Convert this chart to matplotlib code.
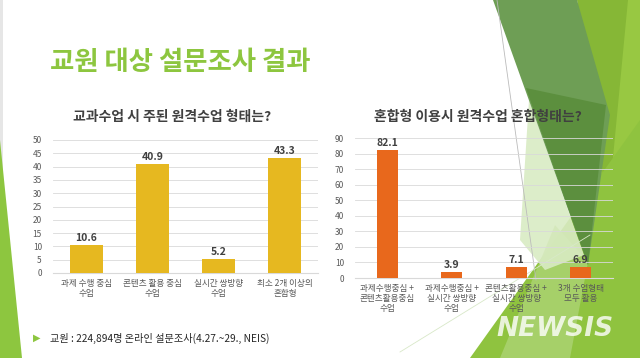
import matplotlib.pyplot as plt
from matplotlib.patches import Polygon
from matplotlib.lines import Line2D

plt.rcParams['font.family'] = ['Noto Sans CJK KR', 'DejaVu Sans']

# left chart data
left_title = '교과수업 시 주된 원격수업 형태는?'
left_labels = ['과제 수행 중심\n수업', '콘텐츠 활용 중심\n수업', '실시간 쌍방향\n수업', '최소 2개 이상의\n혼합형']
left_values = [10.6, 40.9, 5.2, 43.3]
left_ticks = [0, 5, 10, 15, 20, 25, 30, 35, 40, 45, 50]

# right chart data
right_title = '혼합형 이용시 원격수업 혼합형태는?'
right_labels = ['과제수행중심 +\n콘텐츠활용중심\n수업', '과제수행중심 +\n실시간 쌍방향\n수업',
                '콘텐츠활용중심 +\n실시간 쌍방향\n수업', '3개 수업형태\n모두 활용']
right_values = [82.1, 3.9, 7.1, 6.9]
right_ticks = [0, 10, 20, 30, 40, 50, 60, 70, 80, 90]

W, H = 640, 358
fig = plt.figure(figsize=(6.4, 3.58), dpi=100)
fig.patch.set_facecolor('white')


def px(points):
    # pixel coords (y down) -> figure fraction
    return [(x / W, 1 - y / H) for x, y in points]


def deco(points, color, alpha=1.0):
    fig.patches.append(Polygon(px(points), closed=True, transform=fig.transFigure,
                               facecolor=color, edgecolor='none', alpha=alpha, zorder=-5))


# background decoration (slide theme)
deco([(0, 0), (3, 0), (3, 358), (0, 358)], '#E6E6E6')
deco([(0, 140), (22, 358), (0, 358)], '#8DC63F')
deco([(610, 0), (640, 0), (640, 358), (580, 358)], '#98C842')
deco([(577, 0), (628, 0), (608, 210)], '#86B736')
deco([(470, 358), (640, 120), (640, 358)], '#8FC33F')
deco([(500, 358), (555, 225), (588, 262), (570, 358)], '#A9D26E', 0.9)
deco([(529, 100), (584, 255), (545, 270), (520, 240)], '#D9EBC3', 0.9)
deco([(493, 0), (577, 0), (610, 115), (588, 265)], '#6E9E55')
deco([(526, 88), (606, 105), (588, 265)], '#5C8F3E')
fig.lines.append(Line2D([497 / W, 536 / W], [1, 1 - 280 / H], transform=fig.transFigure,
                        color='#BBBBBB', lw=0.6, zorder=-4))
fig.lines.append(Line2D([400 / W, 590 / W], [1 - 352 / H, 1 - 235 / H], transform=fig.transFigure,
                        color='#D8E8C8', lw=0.6, zorder=-4))

# headings
fig.text(50 / W, 1 - 62 / H, '교원 대상 설문조사 결과', color='#8DC63F', fontsize=19,
         fontweight='bold', va='center', ha='left')
fig.text(33 / W, 1 - 338 / H, '▶', color='#8DC63F', fontsize=7, va='center', ha='left',
         family=['DejaVu Sans'])
fig.text(50 / W, 1 - 338 / H, '교원 : 224,894명 온라인 설문조사(4.27.~29., NEIS)', color='#262626',
         fontsize=7.3, va='center', ha='left')


def bar_chart(rect, labels, values, ticks, color, width, title, title_x, gap):
    ax = fig.add_axes(rect)
    ax.set_facecolor('none')
    x = range(len(values))
    ax.bar(x, values, width=width, color=color, zorder=3)
    for xi, v in zip(x, values):
        ax.text(xi, v + gap, f'{v}', ha='center', va='bottom', fontsize=7.5,
                fontweight='bold', color='#404040')
    ax.set_xlim(-0.5, len(values) - 0.5)
    ax.set_ylim(0, ticks[-1])
    ax.set_yticks(ticks)
    ax.set_xticks(list(x))
    ax.set_xticklabels(labels, fontsize=6.2, color='#595959', linespacing=1.15)
    ax.tick_params(axis='y', labelsize=6, labelcolor='#595959', length=0, pad=8)
    ax.tick_params(axis='x', length=0, pad=4)
    ax.grid(axis='y', color='#D9D9D9', lw=0.6, zorder=0)
    for s in ['top', 'right', 'left']:
        ax.spines[s].set_visible(False)
    ax.spines['bottom'].set_color('#D9D9D9')
    ax.spines['bottom'].set_linewidth(0.8)
    fig.text(title_x / W, 1 - 117 / H, title, ha='center', va='center', fontsize=10,
             fontweight='bold', color='#404040')
    return ax


bar_chart([53 / W, 1 - 273 / H, 265 / W, 133 / H], left_labels, left_values, left_ticks,
          '#E6B820', 0.5, left_title, 172, 0.8)
bar_chart([355 / W, 1 - 278 / H, 258 / W, 140 / H], right_labels, right_values, right_ticks,
          '#E8681C', 0.32, right_title, 478, 1.5)

# watermark
fig.text(555 / W, 1 - 329 / H, 'NEWSIS', color='white', alpha=0.8, fontsize=19,
         fontweight='heavy', style='italic', ha='center', va='center', family=['DejaVu Sans'])

fig.savefig('out.png', dpi=100)
